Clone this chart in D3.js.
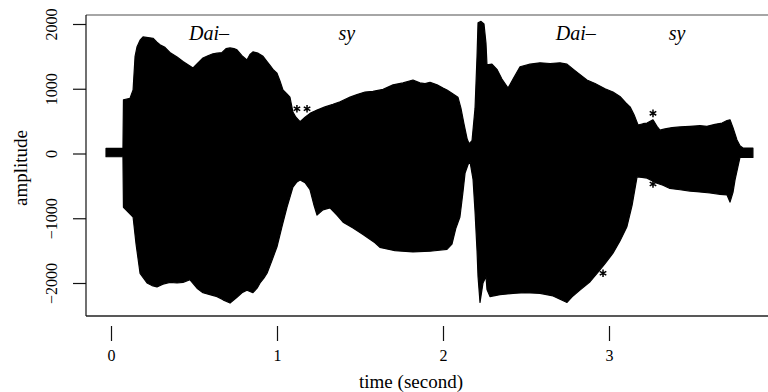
<!DOCTYPE html>
<html><head><meta charset="utf-8">
<script src="https://cdn.jsdelivr.net/npm/d3@7"></script>
<style>html,body{margin:0;padding:0;background:#fff;overflow:hidden}</style>
</head><body>
<svg id="c" width="768" height="392"></svg>
<script>
// Envelope of the waveform (time in seconds, amplitude)
const upperTime = [-0.030,0.072,0.075,0.114,0.133,0.145,0.157,0.175,0.193,0.223,0.253,0.277,0.295,0.325,0.355,0.398,0.434,0.464,0.494,0.524,0.554,0.584,0.614,0.639,0.669,0.693,0.717,0.741,0.759,0.789,0.819,0.837,0.855,0.886,0.916,0.940,0.958,0.976,1.000,1.018,1.036,1.060,1.078,1.096,1.114,1.139,1.169,1.199,1.241,1.289,1.337,1.380,1.440,1.482,1.530,1.578,1.639,1.699,1.759,1.819,1.861,1.892,1.922,1.964,2.000,2.024,2.054,2.090,2.108,2.127,2.145,2.157,2.175,2.193,2.205,2.211,2.229,2.247,2.259,2.265,2.295,2.325,2.355,2.392,2.422,2.464,2.524,2.584,2.645,2.705,2.747,2.795,2.867,2.916,2.976,3.024,3.066,3.102,3.127,3.151,3.175,3.205,3.229,3.265,3.289,3.307,3.337,3.380,3.428,3.488,3.548,3.590,3.639,3.681,3.711,3.729,3.747,3.771,3.789,3.807,3.867];
const upperAmp = [80,80,830,850,980,1500,1650,1750,1800,1790,1780,1720,1680,1640,1560,1490,1420,1370,1320,1400,1475,1510,1540,1550,1560,1620,1630,1620,1600,1510,1445,1530,1570,1550,1500,1420,1360,1300,1240,1120,980,920,870,640,560,490,560,620,670,720,760,800,870,910,950,960,990,1060,1090,1135,1090,1080,1100,1060,1010,980,930,870,700,450,230,150,200,700,1500,2020,2040,2000,1700,1370,1380,1300,1150,1010,1150,1340,1380,1400,1390,1400,1380,1280,1135,1080,1000,950,880,780,720,600,440,460,470,520,420,360,380,400,410,420,430,420,450,470,510,520,400,210,120,85,85];
const lowerTime = [-0.030,0.072,0.075,0.102,0.133,0.151,0.175,0.217,0.247,0.277,0.313,0.355,0.398,0.434,0.476,0.518,0.554,0.596,0.639,0.675,0.717,0.759,0.789,0.819,0.855,0.880,0.898,0.922,0.940,0.970,1.000,1.030,1.060,1.096,1.120,1.139,1.169,1.199,1.223,1.241,1.277,1.319,1.361,1.398,1.458,1.518,1.590,1.620,1.711,1.819,1.922,2.024,2.054,2.078,2.102,2.120,2.133,2.151,2.163,2.181,2.193,2.205,2.211,2.223,2.241,2.259,2.265,2.283,2.343,2.422,2.494,2.584,2.663,2.705,2.747,2.783,2.825,2.886,2.928,2.976,3.024,3.066,3.108,3.139,3.169,3.199,3.229,3.289,3.325,3.367,3.428,3.488,3.530,3.608,3.669,3.711,3.729,3.747,3.759,3.777,3.789,3.867];
const lowerAmp = [-50,-50,-830,-900,-980,-1400,-1850,-2000,-2040,-2060,-2020,-1990,-2000,-1990,-1950,-2080,-2150,-2180,-2210,-2260,-2310,-2220,-2150,-2110,-2150,-2080,-2000,-1920,-1850,-1650,-1440,-1130,-830,-520,-440,-410,-450,-560,-800,-950,-870,-840,-950,-1060,-1150,-1250,-1380,-1450,-1500,-1520,-1510,-1480,-1400,-1150,-980,-600,-300,-170,-130,-400,-900,-1500,-1900,-2300,-2000,-1900,-2100,-2210,-2180,-2160,-2150,-2160,-2200,-2250,-2300,-2200,-2110,-1980,-1850,-1700,-1540,-1350,-1130,-800,-360,-370,-380,-460,-490,-540,-560,-580,-590,-610,-630,-640,-750,-600,-410,-200,-60,-60];
// isolated sample points drawn as stars
const starTime = [1.120,1.181,3.265,3.265,2.964];
const starAmp = [690,690,620,-470,-1850];
// syllable labels
const sylText = ["Dai\u2013","sy","Dai\u2013","sy"];
const sylTime = [0.59,1.42,2.80,3.41];
const sylAmp = [1750,1750,1750,1750];
const xTicks = [0,1,2,3,4];
const yTicks = [-2000,-1000,0,1000,2000];

const svg = d3.select("#c");
const font = "'Liberation Serif','Times New Roman',serif";
const x = d3.scaleLinear().domain([0,4]).range([111,775]);
const y = d3.scaleLinear().domain([-2000,2000]).range([283,24]);

const up = upperTime.map((t,i)=>[x(t),y(upperAmp[i])]);
const lo = lowerTime.map((t,i)=>[x(t),y(lowerAmp[i])]).reverse();
svg.append("path").attr("d", d3.line()(up.concat(lo)) + "Z")
  .attr("fill","#000").attr("stroke","#000").attr("stroke-width",1.2).attr("stroke-linejoin","round");

const sym = d3.symbol().type(d3.symbolAsterisk || d3.symbolCross).size(40);
svg.selectAll(".star").data(starTime).enter().append("path")
  .attr("transform",(d,i)=>`translate(${x(d)},${y(starAmp[i])})`)
  .attr("d", sym).attr("fill","none").attr("stroke","#000").attr("stroke-width",1.5);

// box
svg.append("line").attr("x1",86).attr("x2",800).attr("y1",15).attr("y2",15).attr("stroke","#888").attr("stroke-width",1.5);
svg.append("line").attr("x1",86).attr("x2",800).attr("y1",316).attr("y2",316).attr("stroke","#222").attr("stroke-width",1.3);
svg.append("line").attr("x1",86).attr("x2",86).attr("y1",15).attr("y2",316).attr("stroke","#111").attr("stroke-width",1.2);

// y axis
const ya = svg.append("g").attr("transform","translate(86,0)")
  .call(d3.axisLeft(y).tickValues(yTicks).tickSize(13).tickFormat(d3.format("d")));
ya.select(".domain").remove();
ya.selectAll(".tick line").attr("stroke","#111").attr("stroke-width",1.2);
ya.selectAll(".tick text").attr("x",0).attr("dy",0).attr("text-anchor","middle")
  .attr("transform","translate(-29,0) rotate(-90)")
  .attr("font-family",font).attr("font-size",16).attr("fill","#000")
  .text(d=> d<0 ? "\u2212"+Math.abs(d) : String(d));

// x axis
const xa = svg.append("g").attr("transform","translate(0,326)")
  .call(d3.axisBottom(x).tickValues(xTicks).tickSize(15).tickFormat(d3.format("d")));
xa.select(".domain").remove();
xa.selectAll(".tick line").attr("stroke","#111").attr("stroke-width",1.2);
xa.selectAll(".tick text").attr("y",35).attr("dy",0)
  .attr("font-family",font).attr("font-size",16).attr("fill","#000");

// titles
svg.append("text").attr("x",411).attr("y",388).attr("text-anchor","middle")
  .attr("font-family",font).attr("font-size",19).attr("fill","#000").text("time (second)");
svg.append("text").attr("transform","translate(27,168) rotate(-90)").attr("text-anchor","middle")
  .attr("font-family",font).attr("font-size",19).attr("fill","#000").text("amplitude");

// syllables
svg.selectAll(".syl").data(sylText).enter().append("text")
  .attr("x",(d,i)=>x(sylTime[i])).attr("y",(d,i)=>y(sylAmp[i]))
  .attr("text-anchor","middle").attr("font-family",font).attr("font-style","italic")
  .attr("font-size",20).attr("fill","#000").text(d=>d);
</script>
</body></html>
